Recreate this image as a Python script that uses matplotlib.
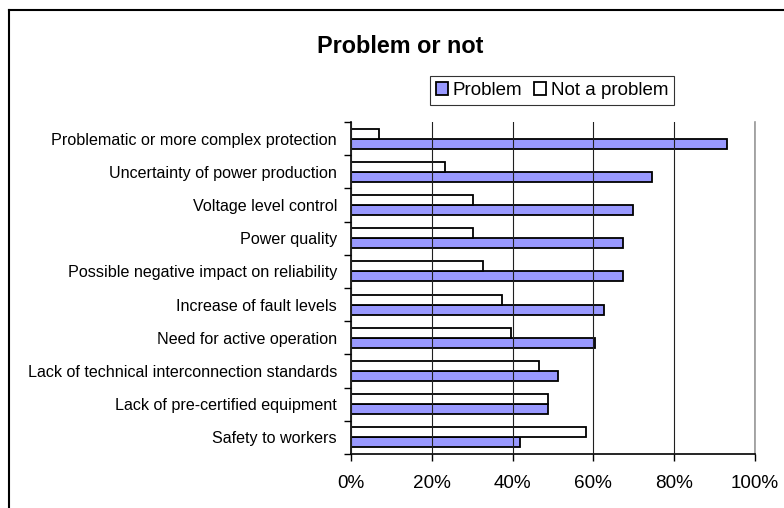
import matplotlib
matplotlib.use("Agg")
import matplotlib.pyplot as plt
import numpy as np
from matplotlib.lines import Line2D
from matplotlib.ticker import PercentFormatter

plt.rcParams['font.family'] = ['Liberation Sans', 'DejaVu Sans']

categories = [
    "Problematic or more complex protection",
    "Uncertainty of power production",
    "Voltage level control",
    "Power quality",
    "Possible negative impact on reliability",
    "Increase of fault levels",
    "Need for active operation",
    "Lack of technical interconnection standards",
    "Lack of pre-certified equipment",
    "Safety to workers",
]
problem = [93.0, 74.5, 69.9, 67.4, 67.4, 62.7, 60.5, 51.2, 48.8, 41.8]
not_problem = [7.0, 23.2, 30.3, 30.3, 32.6, 37.3, 39.5, 46.6, 48.8, 58.1]

fig = plt.figure(figsize=(7.84, 5.08), dpi=100)
ax = fig.add_axes([351 / 784, 1 - 454 / 508, 404 / 784, 332 / 508])

n = len(categories)
y = np.arange(n)[::-1]
h = 0.3
ax.barh(y - h / 2, problem, height=h, color='#9999FF', edgecolor='black',
        linewidth=1.3, label='Problem', zorder=2)
ax.barh(y + h / 2, not_problem, height=h, color='white', edgecolor='black',
        linewidth=1.3, label='Not a problem', zorder=2)

ax.set_xlim(0, 100)
ax.set_ylim(-0.5, n - 0.5)
ax.xaxis.set_major_formatter(PercentFormatter(decimals=0))
ax.set_xticks(np.arange(0, 101, 20))

# category labels at centres, ticks on boundaries
ax.set_yticks(y)
ax.set_yticklabels(categories, fontsize=11.6)
ax.tick_params(axis='y', which='major', length=0, pad=10)
ax.set_yticks(np.arange(-0.5, n, 1), minor=True)
ax.tick_params(axis='y', which='minor', length=5, width=1, direction='out')
ax.tick_params(axis='x', length=5, width=1, direction='out', labelsize=13.6, pad=10)

ax.grid(axis='x', color='#202020', linewidth=0.8, zorder=3)
ax.set_axisbelow(False)

ax.spines['top'].set_visible(False)
ax.spines['right'].set_color('#999999')
ax.spines['right'].set_linewidth(1.2)
ax.spines['left'].set_linewidth(1.2)
ax.spines['bottom'].set_linewidth(1.2)

fig.text(400 / 784, 1 - 46 / 508, "Problem or not", ha='center', va='center',
         fontsize=16.8, fontweight='bold')

leg = fig.legend(loc='center', bbox_to_anchor=(552 / 784, 1 - 90.5 / 508),
                 ncol=2, frameon=True, fancybox=False, fontsize=13.5,
                 handlelength=0.65, handleheight=0.65, handletextpad=0.25,
                 columnspacing=0.6, borderpad=0.3, borderaxespad=0)
leg.get_frame().set_edgecolor('black')
leg.get_frame().set_linewidth(0.8)

# outer chart frame (runs off the right and bottom edges)
fig.add_artist(Line2D([9 / 784, 1.0], [1 - 10 / 508, 1 - 10 / 508],
                      transform=fig.transFigure, color='black', linewidth=1.5))
fig.add_artist(Line2D([9 / 784, 9 / 784], [0.0, 1 - 10 / 508],
                      transform=fig.transFigure, color='black', linewidth=1.5))

fig.savefig("out.png", dpi=100)
